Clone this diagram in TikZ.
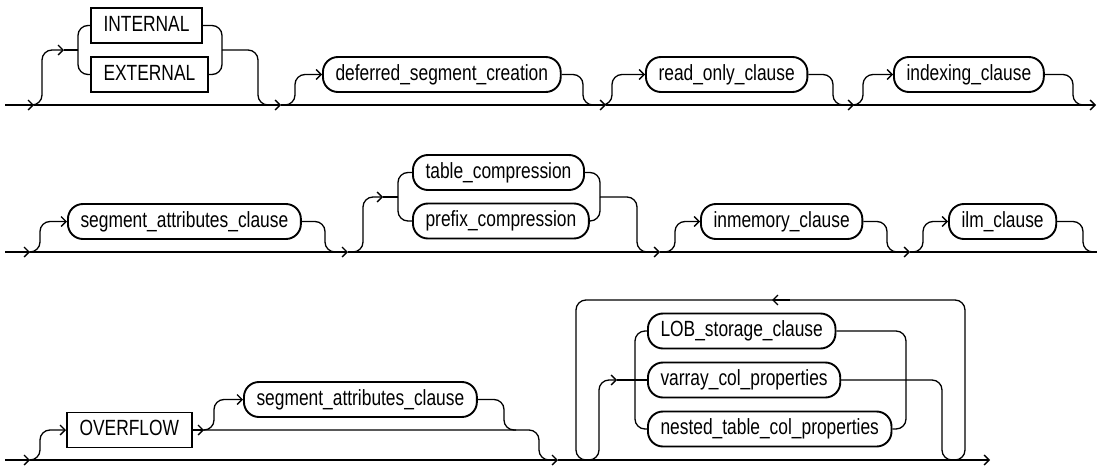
\documentclass[tikz,border=0pt]{standalone}
\usepackage{fontspec}
\setmainfont[FakeStretch=0.79]{Liberation Sans}
\usetikzlibrary{arrows.meta}
\begin{document}
\begin{tikzpicture}[x=1pt,y=-1pt,
  conn/.style={line width=1.3pt, rounded corners=10pt},
  tip/.style={-{Straight Barb[length=5pt,width=10pt,line width=1.3pt]}},
  kw/.style={draw, line width=1.9pt, rectangle, minimum height=35pt,
    inner xsep=12.6pt, inner ysep=0pt, text height=15.5pt, text depth=4.5pt,
    font=\fontsize{22}{26}\selectfont, anchor=west},
  nt/.style={kw, rounded corners=15pt}]
\useasboundingbox (0,0) rectangle (1101,466);

% ---------------- Row 1 ----------------
\coordinate (r1s) at (5,105);
\coordinate (r1a) at (34,105);
\coordinate (r1b) at (281,105);
\coordinate (r1c) at (606,105);
\coordinate (r1d) at (854,105);
\coordinate (r1e) at (1096,105);
\draw[conn,tip] (r1s) -- (r1a);
\draw[conn,tip] (r1a) -- (r1b);
\draw[conn,tip] (r1b) -- (r1c);
\draw[conn,tip] (r1c) -- (r1d);
\draw[conn,tip] (r1d) -- (r1e);

\node[kw] (int) at (90,25.5) {INTERNAL};
\node[kw] (ext) at (90,74.5) {EXTERNAL};
\coordinate (c1arr) at (64,50);
\coordinate (c1l) at (78,50);
\coordinate (c1r) at (222,50);
\draw[conn,tip] (30,105) -| (42,50) -- (c1arr);
\draw[conn] (c1arr) -- (c1l);
\draw[conn] (c1l) |- (int.west);
\draw[conn] (c1l) |- (ext.west);
\draw[conn] (int.east) -| (c1r);
\draw[conn] (ext.east) -| (c1r);
\draw[conn] (c1r) -| (258,105) -- (270,105);

\node[nt] (dsc) at (322,74.5) {deferred\_segment\_creation};
\draw[conn,tip] (283,105) -| (295,74.5) -- (dsc.west);
\draw[conn] (dsc.east) -| (583,105) -- (595,105);

\node[nt] (roc) at (645,74.5) {read\_only\_clause};
\draw[conn,tip] (600,105) -| (612,74.5) -- (roc.west);
\draw[conn] (roc.east) -| (833,105) -- (845,105);

\node[nt] (idx) at (893,74.5) {indexing\_clause};
\draw[conn,tip] (851,105) -| (863,74.5) -- (idx.west);
\draw[conn] (idx.east) -| (1073,105) -- (1085,105);

% ---------------- Row 2 ----------------
\coordinate (r2s) at (5,252);
\coordinate (r2a) at (30,252);
\coordinate (r2b) at (348,252);
\coordinate (r2c) at (660,252);
\coordinate (r2d) at (910,252);
\coordinate (r2e) at (1097,252);
\draw[conn,tip] (r2s) -- (r2a);
\draw[conn,tip] (r2a) -- (r2b);
\draw[conn,tip] (r2b) -- (r2c);
\draw[conn,tip] (r2c) -- (r2d);
\draw[conn] (r2d) -- (r2e);

\node[nt] (sac1) at (67,221.5) {segment\_attributes\_clause};
\draw[conn,tip] (28,252) -| (40,221.5) -- (sac1.west);
\draw[conn] (sac1.east) -| (325,252) -- (337,252);

\node[nt] (tc) at (412,172.5) {table\_compression};
\node[nt] (pc) at (412,221) {prefix\_compression};
\coordinate (c2arr) at (383,197);
\coordinate (c2l) at (398,197);
\coordinate (c2r) at (600,197);
\draw[conn,tip] (351,252) -| (363,197) -- (c2arr);
\draw[conn] (c2arr) -- (c2l);
\draw[conn] (c2l) |- (tc.west);
\draw[conn] (c2l) |- (pc.west);
\draw[conn] (tc.east) -| (c2r);
\draw[conn] (pc.east) -| (c2r);
\draw[conn] (c2r) -| (637,252) -- (649,252);

\node[nt] (inm) at (700,221.5) {inmemory\_clause};
\draw[conn,tip] (663,252) -| (675,221.5) -- (inm.west);
\draw[conn] (inm.east) -| (887,252) -- (899,252);

\node[nt] (ilm) at (948,221.5) {ilm\_clause};
\draw[conn,tip] (911,252) -| (923,221.5) -- (ilm.west);
\draw[conn] (ilm.east) -| (1083,252) -- (1095,252);

% ---------------- Row 3 ----------------
\coordinate (r3s) at (5,460);
\coordinate (r3a) at (30,460);
\coordinate (r3b) at (558,460);
\coordinate (r3e) at (990,460);
\draw[conn,tip] (r3s) -- (r3a);
\draw[conn,tip] (r3a) -- (r3b);
\draw[conn,tip] (r3b) -- (r3e);

\node[kw] (ovf) at (66,430) {OVERFLOW};
\coordinate (ovarr) at (204,430);
\draw[conn,tip] (28,460) -| (40,430) -- (ovf.west);
\draw[conn,tip] (ovf.east) -- (ovarr);
\draw[conn] (ovarr) -| (539,460) -- (551,460);

\node[nt] (sac2) at (243,399.5) {segment\_attributes\_clause};
\draw[conn,tip] (202,430) -| (214,399.5) -- (sac2.west);
\draw[conn] (sac2.east) -| (504,430) -- (516,430);

% loop
\draw[conn] (953,460) -| (965,300) -| (576,460) -- (588,460);
\draw[conn,tip] (790,300) -- (772,300);

\node[nt] (lob) at (647,331) {LOB\_storage\_clause};
\node[nt] (var) at (647,380) {varray\_col\_properties};
\node[nt] (nst) at (647,429) {nested\_table\_col\_properties};
\coordinate (c3arr) at (617,380);
\coordinate (c3l) at (635,380);
\coordinate (c3r) at (906,380);
\draw[conn,tip] (587,460) -| (599,380) -- (c3arr);
\draw[conn] (c3arr) -- (var.west);
\draw[conn] (c3l) |- (lob.west);
\draw[conn] (c3l) |- (nst.west);
\draw[conn] (lob.east) -| (c3r);
\draw[conn] (nst.east) -| (c3r);
\draw[conn] (var.east) -| (942,460) -- (954,460);
\end{tikzpicture}
\end{document}
